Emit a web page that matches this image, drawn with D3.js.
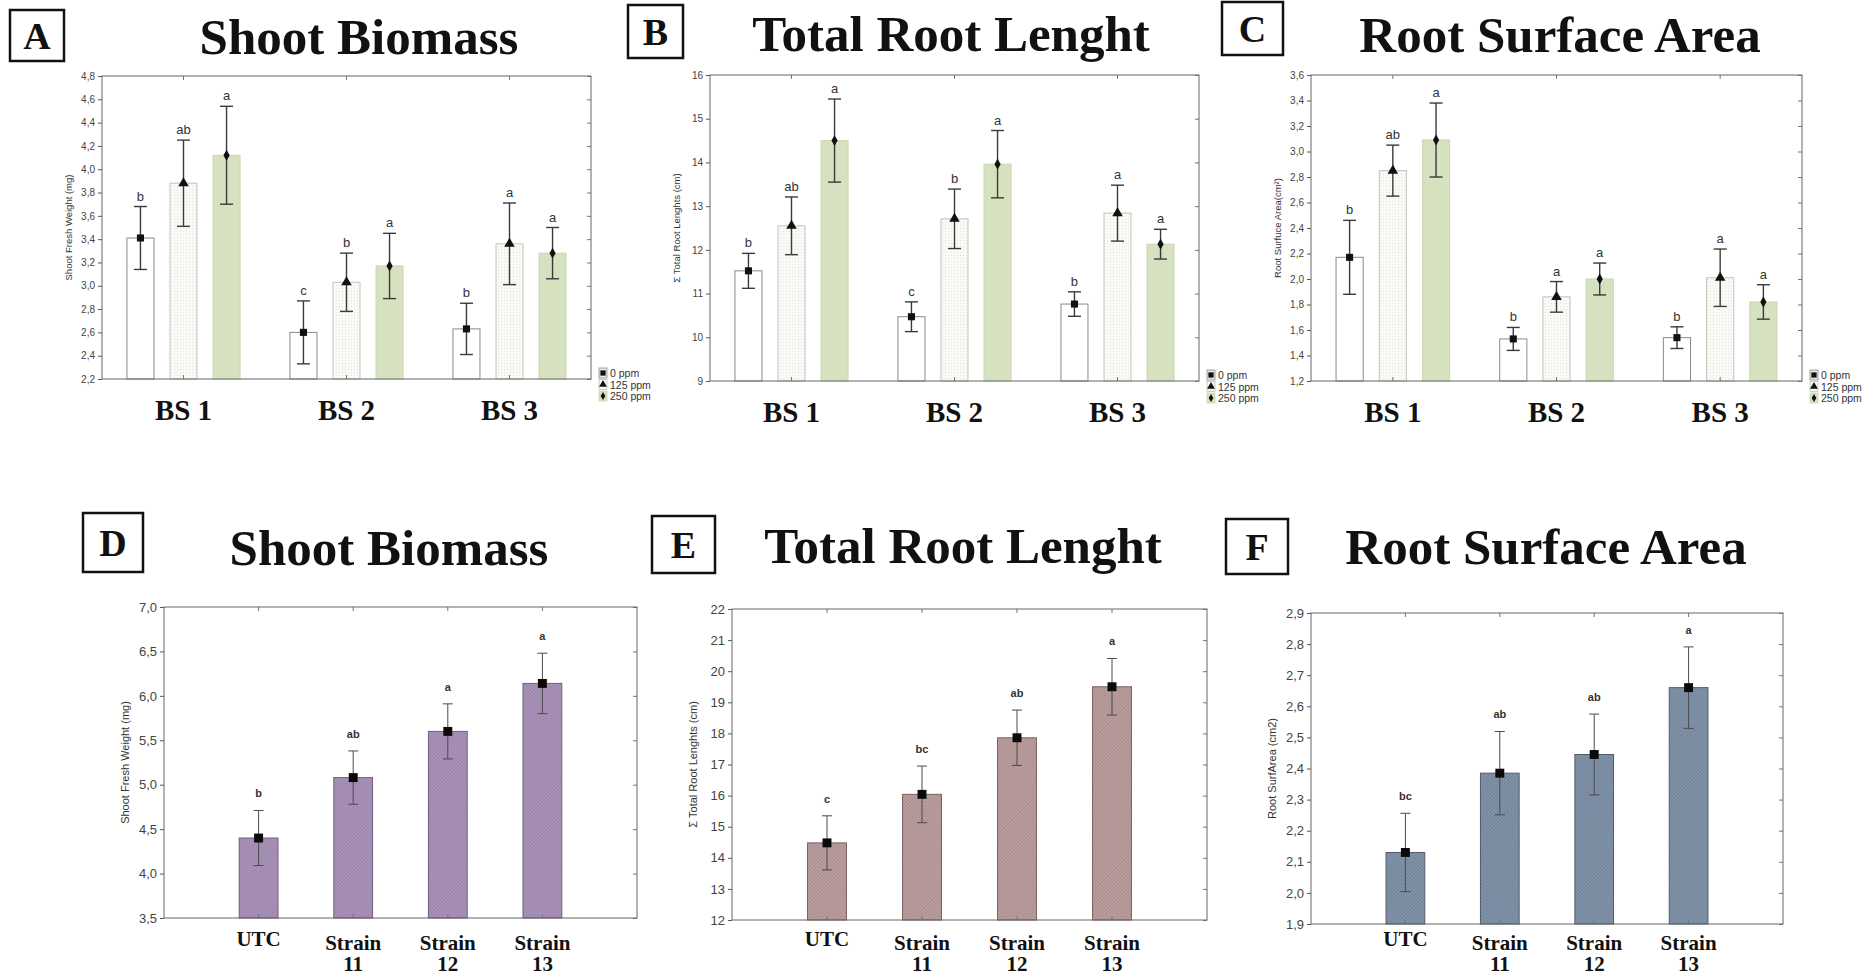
<!DOCTYPE html>
<html>
<head>
<meta charset="utf-8">
<script src="https://cdn.jsdelivr.net/npm/d3@7"></script>
<style>
  body { margin: 0; background: #fff; }
  svg { display: block; }
</style>
</head>
<body>
<div id="chart"></div>
<script>
// ---- data ----
var groups = ["BS 1", "BS 2", "BS 3"];
var doses = ["0 ppm", "125 ppm", "250 ppm"];
var strains = [["UTC"], ["Strain", "11"], ["Strain", "12"], ["Strain", "13"]];

// A: shoot fresh weight (mg), rows = BS 1..3, cols = 0/125/250 ppm
var shootMean = [[3.41, 3.88, 4.12], [2.60, 3.03, 3.17], [2.63, 3.36, 3.28]];
var shootSE = [[0.27, 0.37, 0.42], [0.27, 0.25, 0.28], [0.22, 0.35, 0.22]];
var shootLetters = [["b", "ab", "a"], ["c", "b", "a"], ["b", "a", "a"]];
var shootTicks = [2.2, 2.4, 2.6, 2.8, 3.0, 3.2, 3.4, 3.6, 3.8, 4.0, 4.2, 4.4, 4.6, 4.8];

// B: total root length (cm)
var rootLenMean = [[11.52, 12.55, 14.50], [10.47, 12.71, 13.96], [10.76, 12.84, 12.13]];
var rootLenSE = [[0.40, 0.66, 0.95], [0.34, 0.68, 0.77], [0.28, 0.64, 0.34]];
var rootLenLetters = [["b", "ab", "a"], ["c", "b", "a"], ["b", "a", "a"]];
var rootLenTicks = [9, 10, 11, 12, 13, 14, 15, 16];

// C: root surface area (cm2)
var surfMean = [[2.17, 2.85, 3.09], [1.53, 1.86, 2.00], [1.54, 2.01, 1.82]];
var surfSE = [[0.29, 0.20, 0.29], [0.09, 0.12, 0.125], [0.085, 0.225, 0.135]];
var surfLetters = [["b", "ab", "a"], ["b", "a", "a"], ["b", "a", "a"]];
var surfTicks = [1.2, 1.4, 1.6, 1.8, 2.0, 2.2, 2.4, 2.6, 2.8, 3.0, 3.2, 3.4, 3.6];

// D: shoot fresh weight, strains
var strainShootMean = [4.40, 5.08, 5.60, 6.14];
var strainShootSE = [0.31, 0.30, 0.31, 0.34];
var strainShootLetters = ["b", "ab", "a", "a"];
var strainShootTicks = [3.5, 4.0, 4.5, 5.0, 5.5, 6.0, 6.5, 7.0];

// E: total root length, strains
var strainLenMean = [14.48, 16.04, 17.86, 19.50];
var strainLenSE = [0.87, 0.91, 0.89, 0.91];
var strainLenLetters = ["c", "bc", "ab", "a"];
var strainLenTicks = [12, 13, 14, 15, 16, 17, 18, 19, 20, 21, 22];

// F: root surface area, strains
var strainSurfMean = [2.13, 2.385, 2.445, 2.66];
var strainSurfSE = [0.126, 0.134, 0.13, 0.131];
var strainSurfLetters = ["bc", "ab", "ab", "a"];
var strainSurfTicks = [1.9, 2.0, 2.1, 2.2, 2.3, 2.4, 2.5, 2.6, 2.7, 2.8, 2.9];

// ---- drawing ----
var w = 1870, h = 977;
var serif = "'Liberation Serif', 'Times New Roman', serif";
var sans = "'Liberation Sans', Arial, sans-serif";
var comma1 = function (d) { return d3.format(".1f")(d).replace(".", ","); };
var int0 = d3.format("d");

var svg = d3.select("#chart").append("svg")
    .attr("width", w)
    .attr("height", h);
svg.append("rect").attr("width", w).attr("height", h).attr("fill", "#fff");

var defs = svg.append("defs");
function hatch(id, base, line) {
    var p = defs.append("pattern")
        .attr("id", id)
        .attr("patternUnits", "userSpaceOnUse")
        .attr("width", 2.5).attr("height", 2.5)
        .attr("patternTransform", "rotate(45)");
    p.append("rect").attr("width", 2.5).attr("height", 2.5).attr("fill", base);
    p.append("line").attr("x1", 0.5).attr("y1", 0).attr("x2", 0.5).attr("y2", 2.5)
        .attr("stroke", line).attr("stroke-width", 0.8);
}
hatch("purple", "#aa94ba", "#937ba3");
hatch("rose", "#bca0a0", "#a48686");
hatch("slate", "#8394a9", "#6b7c91");

var dots = defs.append("pattern").attr("id", "dots")
    .attr("patternUnits", "userSpaceOnUse").attr("width", 3).attr("height", 3);
dots.append("rect").attr("width", 3).attr("height", 3).attr("fill", "#fafaf6");
dots.append("rect").attr("width", 1).attr("height", 1).attr("fill", "#e2e2d8");

var doseFill = ["#ffffff", "url(#dots)", "#d5e1bf"];
var doseStroke = ["#8a8a8a", "#c4c4bc", "#cad8b2"];
var doseSymbol = [d3.symbolSquare, d3.symbolTriangle, d3.symbolDiamond];
var doseSize = [50, 48, 34];

function panelLabel(letter, x0, y0, x1, y1) {
    svg.append("rect")
        .attr("x", x0).attr("y", y0)
        .attr("width", x1 - x0).attr("height", y1 - y0)
        .attr("fill", "none").attr("stroke", "#111").attr("stroke-width", 2.5);
    svg.append("text")
        .attr("x", (x0 + x1) / 2).attr("y", (y0 + y1) / 2 + 13)
        .attr("text-anchor", "middle")
        .attr("font-family", serif).attr("font-weight", "bold").attr("font-size", 38)
        .attr("fill", "#111")
        .text(letter);
}

function title(txt, cx, by) {
    svg.append("text")
        .attr("x", cx).attr("y", by)
        .attr("text-anchor", "middle")
        .attr("font-family", serif).attr("font-weight", "bold").attr("font-size", 51)
        .attr("fill", "#111")
        .text(txt);
}

// frame + y axis shared by all panels
function frame(p, y, ticks, fmt, tickFont, label, labelFont, labelDx, xTicks) {
    var g = svg.append("g");
    var left = d3.axisLeft(y).tickValues(ticks).tickFormat(fmt).tickSize(4).tickPadding(3);
    var ga = g.append("g").attr("transform", "translate(" + p.left + ",0)").call(left);
    ga.select(".domain").remove();
    ga.selectAll("line").attr("stroke", "#555");
    ga.selectAll("text").attr("font-family", sans).attr("font-size", tickFont).attr("fill", "#444");

    var right = d3.axisRight(y).tickValues(ticks).tickFormat("").tickSize(-4);
    var gr = g.append("g").attr("transform", "translate(" + p.right + ",0)").call(right);
    gr.select(".domain").remove();
    gr.selectAll("line").attr("stroke", "#777");

    g.selectAll("line.xt").data(xTicks).enter().append("line")
        .attr("x1", function (d) { return d; }).attr("x2", function (d) { return d; })
        .attr("y1", p.top).attr("y2", p.top + 4)
        .attr("stroke", "#777");
    g.selectAll("line.xb").data(xTicks).enter().append("line")
        .attr("x1", function (d) { return d; }).attr("x2", function (d) { return d; })
        .attr("y1", p.bottom).attr("y2", p.bottom - 4)
        .attr("stroke", "#777");

    g.append("rect")
        .attr("x", p.left).attr("y", p.top)
        .attr("width", p.right - p.left).attr("height", p.bottom - p.top)
        .attr("fill", "none").attr("stroke", "#666").attr("stroke-width", 1);

    g.append("text")
        .attr("transform", "translate(" + (p.left - labelDx) + "," + ((p.top + p.bottom) / 2) + ") rotate(-90)")
        .attr("text-anchor", "middle")
        .attr("font-family", sans).attr("font-size", labelFont).attr("fill", "#333")
        .text(label);
}

function groupedPanel(p, means, ses, letters, ticks, fmt, label) {
    var y = d3.scaleLinear().domain([ticks[0], ticks[ticks.length - 1]]).range([p.bottom, p.top]);
    var x0 = d3.scaleBand().domain(groups).range([p.left, p.right]);
    var half = x0.bandwidth() * 0.347;
    var x1 = d3.scaleBand().domain(doses).range([-half, half]).paddingInner(0.372);

    var rows = [];
    groups.forEach(function (gname, gi) {
        doses.forEach(function (dname, di) {
            rows.push({ g: gname, d: dname, di: di, m: means[gi][di], se: ses[gi][di], l: letters[gi][di] });
        });
    });
    var cx = function (r) { return x0(r.g) + x0.bandwidth() / 2 + x1(r.d) + x1.bandwidth() / 2; };

    var plot = svg.append("g");
    plot.selectAll("rect.bar").data(rows).enter().append("rect")
        .attr("class", "bar")
        .attr("x", function (r) { return cx(r) - x1.bandwidth() / 2; })
        .attr("y", function (r) { return y(r.m); })
        .attr("width", x1.bandwidth())
        .attr("height", function (r) { return p.bottom - y(r.m); })
        .attr("fill", function (r) { return doseFill[r.di]; })
        .attr("stroke", function (r) { return doseStroke[r.di]; })
        .attr("stroke-width", 1);

    frame(p, y, ticks, fmt, 10, label, 9.5, 30,
        groups.map(function (gname) { return x0(gname) + x0.bandwidth() / 2; }));

    var eb = plot.selectAll("g.err").data(rows).enter().append("g").attr("class", "err")
        .attr("stroke", "#3a3a3a").attr("stroke-width", 1.4);
    eb.append("line")
        .attr("x1", cx).attr("x2", cx)
        .attr("y1", function (r) { return y(r.m + r.se); })
        .attr("y2", function (r) { return y(r.m - r.se); });
    [1, -1].forEach(function (s) {
        eb.append("line")
            .attr("x1", function (r) { return cx(r) - 6.5; })
            .attr("x2", function (r) { return cx(r) + 6.5; })
            .attr("y1", function (r) { return y(r.m + s * r.se); })
            .attr("y2", function (r) { return y(r.m + s * r.se); });
    });

    plot.selectAll("path.mk").data(rows).enter().append("path")
        .attr("d", function (r) { return d3.symbol().type(doseSymbol[r.di]).size(doseSize[r.di])(); })
        .attr("transform", function (r) { return "translate(" + cx(r) + "," + y(r.m) + ")"; })
        .attr("fill", "#111");

    plot.selectAll("text.lt").data(rows).enter().append("text")
        .attr("x", cx)
        .attr("y", function (r) { return y(r.m + r.se) - 6; })
        .attr("text-anchor", "middle")
        .attr("font-family", sans).attr("font-size", 13).attr("fill", "#333")
        .text(function (r) { return r.l; });

    plot.selectAll("text.cat").data(groups).enter().append("text")
        .attr("x", function (gname) { return x0(gname) + x0.bandwidth() / 2; })
        .attr("y", p.bottom + 41)
        .attr("text-anchor", "middle")
        .attr("font-family", serif).attr("font-weight", "bold").attr("font-size", 29)
        .attr("fill", "#111")
        .text(function (gname) { return gname; });

    // legend
    var lg = svg.append("g").attr("transform", "translate(" + (p.right + 8) + "," + (p.bottom - 6) + ")");
    var item = lg.selectAll("g").data(doses).enter().append("g")
        .attr("transform", function (d, i) { return "translate(0," + (i * 11.5) + ")"; });
    item.append("rect")
        .attr("x", 0).attr("y", -5).attr("width", 8).attr("height", 10)
        .attr("fill", function (d, i) { return i === 0 ? "#e8e8e8" : doseFill[i]; })
        .attr("stroke", function (d, i) { return doseStroke[i]; })
        .attr("stroke-width", 0.8);
    item.append("path")
        .attr("d", function (d, i) { return d3.symbol().type(doseSymbol[i]).size(doseSize[i] * 0.55)(); })
        .attr("transform", "translate(4,0)")
        .attr("fill", "#111");
    item.append("text")
        .attr("x", 11).attr("y", 4)
        .attr("font-family", sans).attr("font-size", 10.5).attr("fill", "#333")
        .text(function (d) { return d; });
}

function strainPanel(p, means, ses, letters, ticks, fmt, label, fillId, edge) {
    var y = d3.scaleLinear().domain([ticks[0], ticks[ticks.length - 1]]).range([p.bottom, p.top]);
    var x = d3.scaleLinear().domain([0, strains.length + 1]).range([p.left, p.right]);
    var bw = (x(1) - x(0)) * 0.41;
    var rows = means.map(function (m, i) { return { i: i, m: m, se: ses[i], l: letters[i], name: strains[i] }; });
    var cx = function (r) { return x(r.i + 1); };

    var plot = svg.append("g");
    plot.selectAll("rect.bar").data(rows).enter().append("rect")
        .attr("x", function (r) { return cx(r) - bw / 2; })
        .attr("y", function (r) { return y(r.m); })
        .attr("width", bw)
        .attr("height", function (r) { return p.bottom - y(r.m); })
        .attr("fill", "url(#" + fillId + ")")
        .attr("stroke", edge).attr("stroke-width", 1);

    frame(p, y, ticks, fmt, 13, label, 11, 35, rows.map(cx));

    var eb = plot.selectAll("g.err").data(rows).enter().append("g")
        .attr("stroke", "#4a4a4a").attr("stroke-width", 1);
    eb.append("line")
        .attr("x1", cx).attr("x2", cx)
        .attr("y1", function (r) { return y(r.m + r.se); })
        .attr("y2", function (r) { return y(r.m - r.se); });
    [1, -1].forEach(function (s) {
        eb.append("line")
            .attr("x1", function (r) { return cx(r) - 5; })
            .attr("x2", function (r) { return cx(r) + 5; })
            .attr("y1", function (r) { return y(r.m + s * r.se); })
            .attr("y2", function (r) { return y(r.m + s * r.se); });
    });

    plot.selectAll("path.mk").data(rows).enter().append("path")
        .attr("d", d3.symbol().type(d3.symbolSquare).size(80)())
        .attr("transform", function (r) { return "translate(" + cx(r) + "," + y(r.m) + ")"; })
        .attr("fill", "#0a0a0a");

    plot.selectAll("text.lt").data(rows).enter().append("text")
        .attr("x", cx)
        .attr("y", function (r) { return y(r.m + r.se) - 13; })
        .attr("text-anchor", "middle")
        .attr("font-family", sans).attr("font-weight", "bold").attr("font-size", 11).attr("fill", "#333")
        .text(function (r) { return r.l; });

    // category labels sit on a common baseline below the row of panels
    var cat = plot.selectAll("text.cat").data(rows).enter().append("text")
        .attr("x", cx)
        .attr("y", function (r) { return r.name.length === 1 ? 946 : 950; })
        .attr("text-anchor", "middle")
        .attr("font-family", serif).attr("font-weight", "bold").attr("font-size", 21)
        .attr("fill", "#111");
    cat.selectAll("tspan").data(function (r) { return r.name.map(function (t) { return { t: t, x: cx(r) }; }); })
        .enter().append("tspan")
        .attr("x", function (d) { return d.x; })
        .attr("dy", function (d, i) { return i === 0 ? 0 : 21; })
        .text(function (d) { return d.t; });
}

// panel A-C
panelLabel("A", 10, 10, 64, 61);
title("Shoot Biomass", 359, 54);
groupedPanel({ left: 102, right: 591, top: 76, bottom: 379 },
    shootMean, shootSE, shootLetters, shootTicks, comma1, "Shoot Fresh Weight (mg)");

panelLabel("B", 628, 5, 683, 58);
title("Total Root Lenght", 951, 51);
groupedPanel({ left: 710, right: 1199, top: 75, bottom: 381 },
    rootLenMean, rootLenSE, rootLenLetters, rootLenTicks, int0, "\u03A3 Total Root Lenghts (cm)");

panelLabel("C", 1222, 2, 1283, 55);
title("Root Surface Area", 1560, 52);
groupedPanel({ left: 1311, right: 1802, top: 75, bottom: 381 },
    surfMean, surfSE, surfLetters, surfTicks, comma1, "Root Surfuce Area(cm\u00B2)");

// panel D-F
panelLabel("D", 83, 513, 143, 572);
title("Shoot Biomass", 389, 565);
strainPanel({ left: 164, right: 637, top: 607, bottom: 918 },
    strainShootMean, strainShootSE, strainShootLetters, strainShootTicks, comma1,
    "Shoot Fresh Weight (mg)", "purple", "#6f5d7d");

panelLabel("E", 652, 516, 715, 573);
title("Total Root Lenght", 963, 563);
strainPanel({ left: 732, right: 1207, top: 609, bottom: 920 },
    strainLenMean, strainLenSE, strainLenLetters, strainLenTicks, int0,
    "\u03A3 Total Root Lenghts (cm)", "rose", "#7d6060");

panelLabel("F", 1226, 519, 1288, 574);
title("Root Surface Area", 1546, 564);
strainPanel({ left: 1311, right: 1783, top: 613, bottom: 924 },
    strainSurfMean, strainSurfSE, strainSurfLetters, strainSurfTicks, comma1,
    "Root SurfArea (cm2)", "slate", "#515c6b");
</script>
</body>
</html>
